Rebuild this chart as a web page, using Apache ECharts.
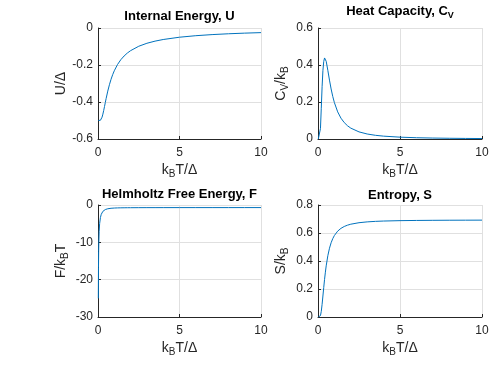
<!DOCTYPE html>
<html><head><meta charset="utf-8">
<script src="https://cdn.jsdelivr.net/npm/echarts@6/dist/echarts.min.js"></script>
<style>html,body{margin:0;padding:0;background:#fff}#c{width:500px;height:368px}</style>
</head><body><div id="c"></div>
<script>
// reduced temperature kB*T/Δ
const T = [0.02,0.03,0.04,0.05,0.07,0.1,0.15,0.2,0.25,0.3,0.35,0.4,0.45,0.5,0.6,0.7,0.8,0.9,1.0,1.2,1.4,1.6,1.8,2.0,2.5,3,3.5,4,5,6,7,8,9,10];
// U/Δ
const U = [-0.5,-0.5,-0.5,-0.5,-0.5,-0.49995,-0.49873,-0.49331,-0.48201,-0.46555,-0.44569,-0.42414,-0.40223,-0.3808,-0.34113,-0.30668,-0.2773,-0.25234,-0.23106,-0.19706,-0.17135,-0.15136,-0.13542,-0.12246,-0.09869,-0.08257,-0.07095,-0.06218,-0.04983,-0.04157,-0.03565,-0.03121,-0.02775,-0.02498];
// Cv/kB
const CV = [0,0,0,0,0.0001,0.00454,0.05643,0.1662,0.2826,0.36954,0.41929,0.43815,0.43562,0.41997,0.37119,0.31826,0.27048,0.23003,0.19661,0.14664,0.11257,0.08871,0.0715,0.05875,0.03844,0.02702,0.02,0.01538,0.0099,0.0069,0.00508,0.00389,0.00308,0.00249];
// F/(kB T)
const F = [-25.0,-16.667,-12.5,-10.0,-7.1429,-5.00005,-3.3346,-2.5067,-2.01815,-1.70172,-1.48442,-1.32889,-1.214,-1.12693,-1.00634,-0.92912,-0.87693,-0.84013,-0.81326,-0.77755,-0.75561,-0.7412,-0.73124,-0.72408,-0.71302,-0.70698,-0.70332,-0.70094,-0.69814,-0.69662,-0.6957,-0.6951,-0.69469,-0.6944];
// S/kB
const S = [0,0,0,0,0.00001,0.0005,0.00975,0.04018,0.09009,0.14987,0.21103,0.26854,0.32016,0.36533,0.43779,0.491,0.5303,0.55975,0.5822,0.61333,0.63322,0.6466,0.65601,0.66285,0.67354,0.67946,0.68305,0.6854,0.68817,0.68969,0.6906,0.6912,0.69161,0.6919];

const xTicks = [0,5,10];
const titles = ['Internal Energy, U', 'Heat Capacity, C', 'Helmholtz Free Energy, F', 'Entropy, S'];

const C = '#0072BD', AX = '#262626', GR = '#e0e0e0';
const FONT = 'Liberation Sans, Arial, Helvetica, sans-serif';
const grids = [
  {left:98, top:28, width:163, height:111},
  {left:318, top:28, width:164, height:111},
  {left:98, top:205, width:163, height:112},
  {left:318, top:205, width:164, height:112}
];
const yCfg = [
  {min:-0.6, max:0, interval:0.2, name:'{a|U/Δ}'},
  {min:0, max:0.6, interval:0.2, name:'{a|C}{b|V}{a|/k}{b|B}'},
  {min:-30, max:0, interval:10, name:'{a|F/k}{b|B}{a|T}'},
  {min:0, max:0.8, interval:0.2, name:'{a|S/k}{b|B}'}
];
const ys = [U, CV, F, S];
const rich = {
  a:{fontSize:14, color:AX, fontFamily:FONT, verticalAlign:'top', lineHeight:16},
  b:{fontSize:10, color:AX, fontFamily:FONT, verticalAlign:'top', lineHeight:16, padding:[6,0,0,0]}
};
const fmt = v => (Math.abs(v) < 1e-9 ? '0' : String(+v.toFixed(1)));

const option = {
  animation:false,
  backgroundColor:'#fff',
  grid: grids,
  xAxis: grids.map((g,i)=>({
    gridIndex:i, type:'value', min:0, max:10, interval:5,
    name:'{a|k}{b|B}{a|T/Δ}', nameLocation:'middle', nameGap:24,
    nameTextStyle:{rich:rich},
    axisLine:{show:true, onZero:false, lineStyle:{color:AX, width:1}},
    axisTick:{show:true, inside:true, length:3, lineStyle:{color:AX}},
    axisLabel:{color:AX, fontSize:12, fontFamily:FONT, margin:8, formatter:v=>String(v)},
    splitLine:{show:true, lineStyle:{color:GR, width:1}}
  })),
  yAxis: grids.map((g,i)=>({
    gridIndex:i, type:'value', min:yCfg[i].min, max:yCfg[i].max, interval:yCfg[i].interval,
    name:yCfg[i].name, nameLocation:'middle', nameGap:28, nameRotate:90,
    nameTextStyle:{rich:rich, fontSize:14, color:AX, fontFamily:FONT},
    axisLine:{show:true, onZero:false, lineStyle:{color:AX, width:1}},
    axisTick:{show:true, inside:true, length:3, lineStyle:{color:AX}},
    axisLabel:{color:AX, fontSize:12, fontFamily:FONT, margin:5, formatter:fmt},
    splitLine:{show:true, lineStyle:{color:GR, width:1}}
  })),
  series: ys.map((arr,i)=>({
    type:'line', xAxisIndex:i, yAxisIndex:i, showSymbol:false, symbol:'none',
    lineStyle:{color:C, width:1}, data:T.map((t,k)=>[t,arr[k]]), z:3
  })),
  graphic: [
    {type:'text', x:179.5, y:16, style:{text:titles[0], font:'bold 13px '+FONT, fill:'#000', align:'center', verticalAlign:'middle'}},
    {type:'text', x:400, y:5, style:{text:'{t|Heat Capacity, C}{s|V}', align:'center', verticalAlign:'top',
      rich:{t:{font:'bold 13px '+FONT, fill:'#000', verticalAlign:'top', lineHeight:15},
            s:{font:'bold 9px '+FONT, fill:'#000', verticalAlign:'top', lineHeight:15, padding:[6,0,0,0]}}}},
    {type:'text', x:179.5, y:194, style:{text:titles[2], font:'bold 13px '+FONT, fill:'#000', align:'center', verticalAlign:'middle'}},
    {type:'text', x:400, y:195, style:{text:titles[3], font:'bold 13px '+FONT, fill:'#000', align:'center', verticalAlign:'middle'}}
  ]
};
const chart = echarts.init(document.getElementById('c'), null, {renderer:'canvas'});
chart.setOption(option);
</script></body></html>
